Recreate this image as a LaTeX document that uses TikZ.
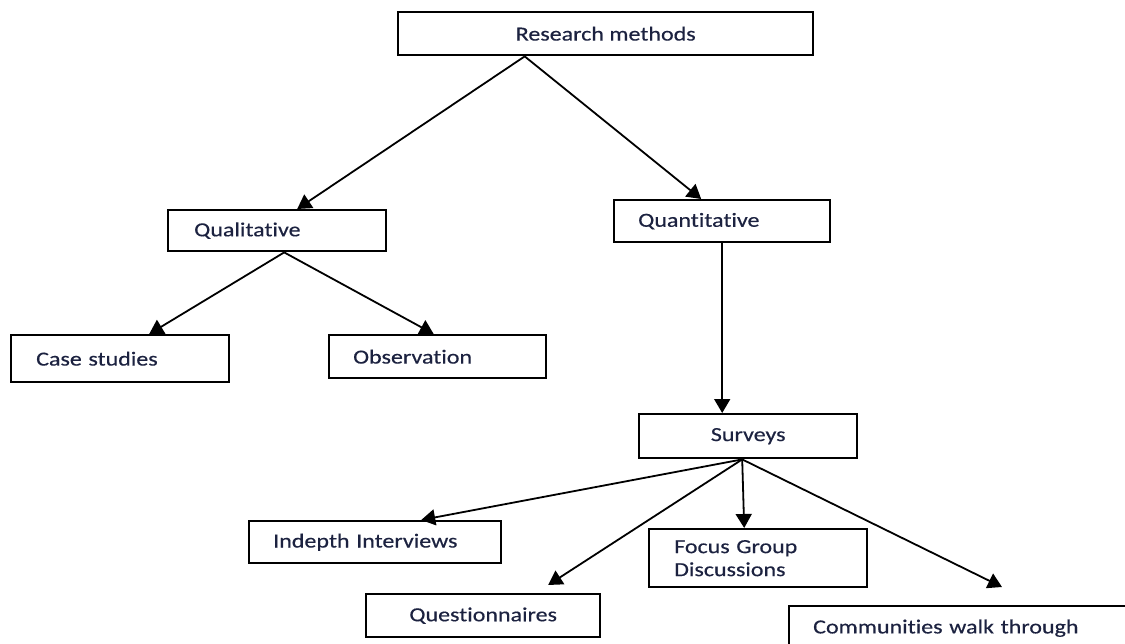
\documentclass[tikz,border=0pt]{standalone}
\usepackage{fontspec}
\setmainfont{Carlito}[FakeStretch=1.2, FakeBold=0.4, Ligatures=NoCommon]
\usetikzlibrary{arrows.meta}
\definecolor{inkblue}{RGB}{28,34,64}
\tikzset{
  box/.style={draw, line width=2.4pt, anchor=north west, inner ysep=0pt, text=inkblue, font=\fontsize{20}{23}\selectfont},
  lbox/.style={box, align=left},
  link/.style={draw, line width=1.8pt, -{Triangle[length=14pt,width=16pt]}}
}
\begin{document}
\begin{tikzpicture}[x=1pt,y=-1pt]
\clip (0,0) rectangle (1125,644);
\node[box, minimum width=415pt, minimum height=43pt] (rm) at (397,11) {Research methods};
\node[lbox, inner xsep=26pt, text width=166pt, minimum height=41pt] (qual) at (167,209) {Qualitative};
\node[lbox, inner xsep=24pt, text width=168pt, minimum height=42pt] (quant) at (613,199) {Quantitative};
\node[lbox, inner xsep=25pt, text width=168pt, minimum height=47pt] (case) at (10,334) {Case studies};
\node[lbox, inner xsep=24pt, text width=169pt, minimum height=43pt] (obs) at (328,334) {Observation};
\node[box, minimum width=218pt, minimum height=44pt] (surv) at (638,413) {Surveys};
\node[lbox, inner xsep=24pt, text width=204pt, minimum height=42pt] (indepth) at (248,520) {Indepth Interviews};
\node[lbox, inner xsep=25pt, text width=168pt, minimum height=58pt] (focus) at (648,528) {Focus Group\\Discussions};
\node[box, minimum width=234pt, minimum height=43pt] (quest) at (365,593) {Questionnaires};
\node[lbox, inner xsep=24pt, text width=300pt, minimum height=44pt] (comm) at (788,605) {Communities walk through};
\coordinate (commtip) at (1002,587);

\path[link] ([xshift=-81pt]rm.south) -- ([xshift=20pt]qual.north);
\path[link] ([xshift=-81pt]rm.south) -- ([xshift=-21pt]quant.north);
\path[link] (quant.south) -- (quant.south |- surv.north);
\path[link] ([xshift=7pt]qual.south) -- ([xshift=29pt]case.north);
\path[link] ([xshift=7pt]qual.south) -- ([xshift=-4pt]obs.north);
\path[link] ([xshift=-6pt]surv.south) -- ([xshift=46pt]indepth.north);
\path[link] ([xshift=-6pt]surv.south) -- ([xshift=65pt,yshift=8pt]quest.north);
\path[link] ([xshift=-6pt]surv.south) -- ([xshift=-14pt]focus.north);
\path[link] ([xshift=-6pt]surv.south) -- (commtip);
\end{tikzpicture}
\end{document}
